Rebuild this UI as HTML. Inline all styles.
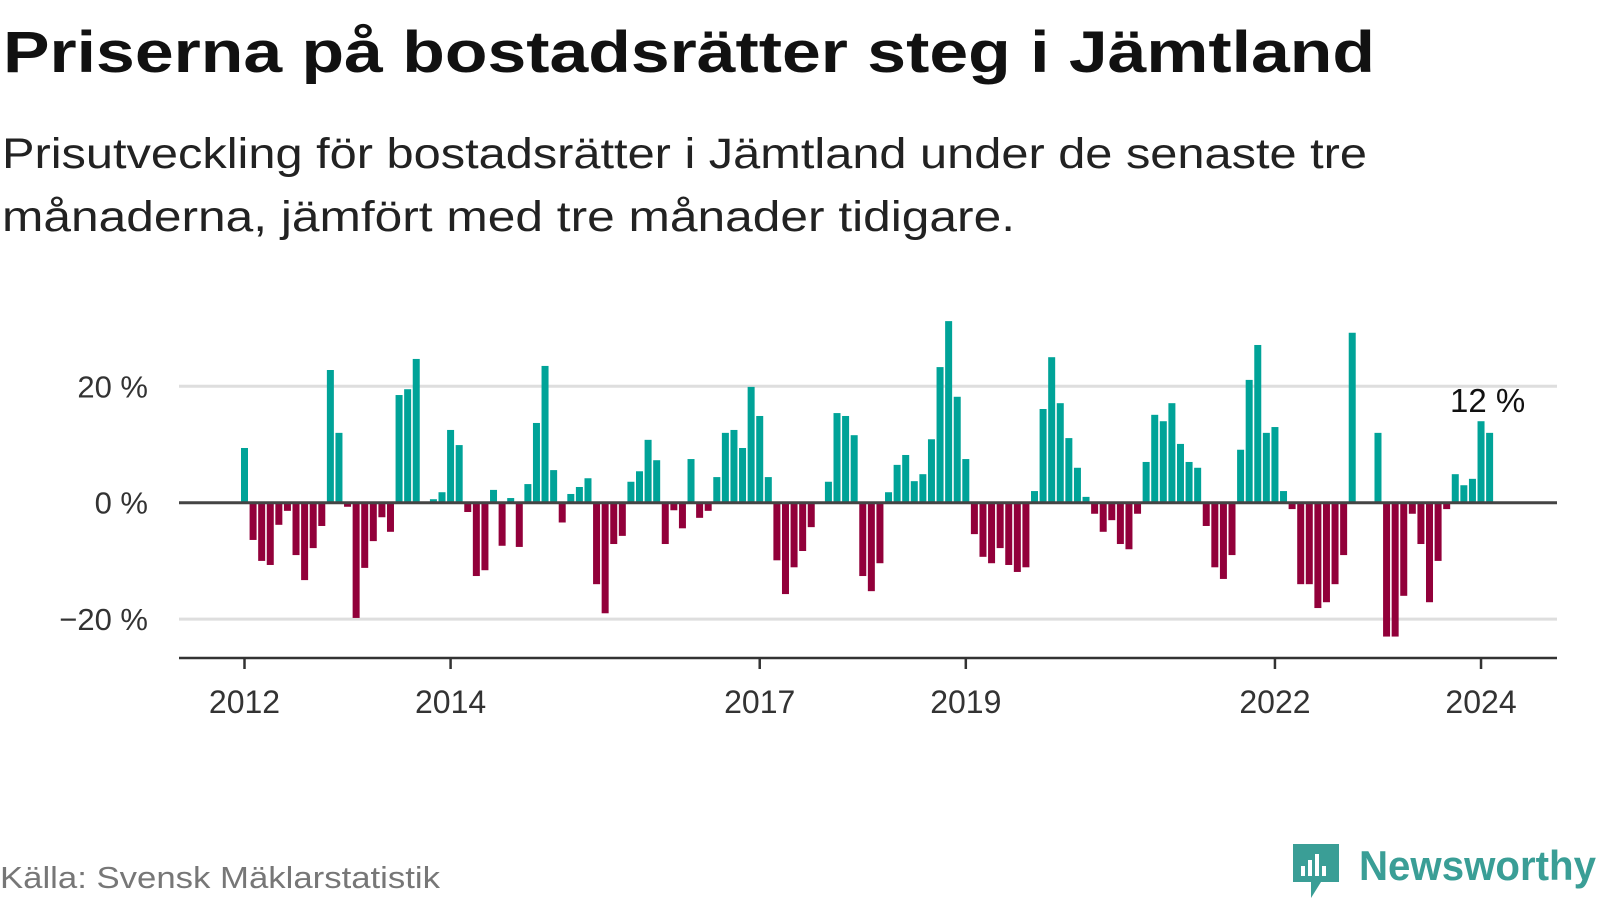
<!DOCTYPE html>
<html><head><meta charset="utf-8"><style>
html,body{margin:0;padding:0;background:#fff;width:1600px;height:900px;overflow:hidden}
svg{display:block;font-family:"Liberation Sans",sans-serif}
</style></head><body>
<svg id="chart" width="1600" height="900" viewBox="0 0 1600 900">
<text x="3" y="72" font-size="58" font-weight="bold" fill="#111" textLength="1372" lengthAdjust="spacingAndGlyphs">Priserna på bostadsrätter steg i Jämtland</text>
<text x="2" y="168" font-size="43" fill="#222" textLength="1365" lengthAdjust="spacingAndGlyphs">Prisutveckling för bostadsrätter i Jämtland under de senaste tre</text>
<text x="2" y="231" font-size="43" fill="#222" textLength="1013" lengthAdjust="spacingAndGlyphs">månaderna, jämfört med tre månader tidigare.</text>
<g id="grid"></g>
<g id="bars"></g>
<g id="axes"></g>
<text x="0" y="888" font-size="31" fill="#777" textLength="440" lengthAdjust="spacingAndGlyphs">Källa: Svensk Mäklarstatistik</text>
<g>
<path d="M1293 844 h46 v38 h-18 l-10 16 v-16 h-18 z" fill="#3a9e96"/>
<rect x="1301" y="866" width="4" height="10" fill="#fff"/>
<rect x="1308" y="860" width="4" height="16" fill="#fff"/>
<rect x="1315" y="854" width="4" height="22" fill="#fff"/>
<rect x="1322" y="866" width="4" height="10" fill="#fff"/>
<text x="1359" y="880" font-size="42" font-weight="bold" fill="#3a9e96" textLength="237" lengthAdjust="spacingAndGlyphs">Newsworthy</text>
</g>
</svg>
<script>
const values = [9.4,-6.4,-10.0,-10.7,-3.8,-1.4,-9.0,-13.3,-7.8,-4.0,22.8,12.0,
-0.7,-19.8,-11.2,-6.6,-2.5,-5.0,18.5,19.5,24.7,null,0.6,1.8,
12.5,9.9,-1.6,-12.6,-11.6,2.2,-7.4,0.8,-7.6,3.2,13.7,23.5,
5.6,-3.4,1.5,2.7,4.2,-14.0,-19.0,-7.1,-5.7,3.6,5.4,10.8,
7.3,-7.1,-1.3,-4.4,7.5,-2.6,-1.4,4.4,12.0,12.5,9.4,19.9,
14.9,4.4,-9.9,-15.7,-11.1,-8.3,-4.2,null,3.6,15.4,14.9,11.6,
-12.6,-15.2,-10.4,1.8,6.5,8.2,3.7,4.9,10.9,23.3,31.2,18.2,
7.5,-5.4,-9.3,-10.4,-7.8,-10.7,-11.9,-11.1,2.0,16.1,25.0,17.1,
11.1,6.0,1.0,-1.9,-5.0,-3.0,-7.1,-8.0,-1.9,7.0,15.1,14.0,
17.1,10.1,7.0,6.0,-4.0,-11.1,-13.1,-9.0,9.1,21.1,27.1,12.0,
13.0,2.0,-1.1,-14.0,-14.0,-18.1,-17.1,-14.0,-9.0,29.2,null,null,
12.0,-23.0,-23.0,-16.0,-1.9,-7.1,-17.1,-10.0,-1.1,4.9,3.0,4.1,
14.0,12.0];
const startYear = 2012;
const yTicks = [20,0,-20];
const yTickLabels = ["20 %","0 %","\u221220 %"];
const xTickYears = [2012,2014,2017,2019,2022,2024];
const lastLabel = "12 %";

const NS="http://www.w3.org/2000/svg";
const x0=244.5, step=8.587, barW=7;
const xScale = i => x0 + i*step;
const yScale = v => 502.7 - v*5.82;
function mk(tag, attrs, parent){const e=document.createElementNS(NS,tag);for(const k in attrs)e.setAttribute(k,attrs[k]);parent.appendChild(e);return e;}
const grid=document.getElementById('grid'), bars=document.getElementById('bars'), axes=document.getElementById('axes');
const L=179, R=1557;
yTicks.forEach((t,k)=>{
  if(t!==0){const g=mk('line',{x1:L,x2:R,y1:yScale(t),y2:yScale(t),stroke:'#dedede','stroke-width':3},grid);
  
  }
  const tx=mk('text',{x:148,y:yScale(t)+11,'font-size':31,fill:'#333','text-anchor':'end'},axes);
  tx.textContent=yTickLabels[k];
  
  
});
values.forEach((v,i)=>{
  if(v===null)return;
  const y=yScale(Math.max(v,0)), h=Math.abs(yScale(v)-yScale(0));
  const r=mk('rect',{x:xScale(i)-barW/2,y:y,width:barW,height:h,fill:v>=0?'#00a398':'#92003a'},bars);
  
  
});
const zl=mk('line',{x1:L,x2:R,y1:yScale(0),y2:yScale(0),stroke:'#444','stroke-width':3},axes);


const ax=mk('line',{x1:L,x2:R,y1:658,y2:658,stroke:'#333','stroke-width':2.5},axes);


xTickYears.forEach(yr=>{
  const x=xScale((yr-startYear)*12);
  const tk=mk('line',{x1:x,x2:x,y1:658,y2:669,stroke:'#333','stroke-width':2.5},axes);
  
  
  const tx=mk('text',{x:x,y:713,'font-size':32,fill:'#333','text-anchor':'middle'},axes);
  tx.textContent=String(yr);
  
  
});
const li=values.length-1;
const lb=mk('text',{x:xScale(li)-2,y:yScale(values[li])-21,'font-size':33,fill:'#111','text-anchor':'middle'},axes);
lb.textContent=lastLabel;


</script>
</body></html>
